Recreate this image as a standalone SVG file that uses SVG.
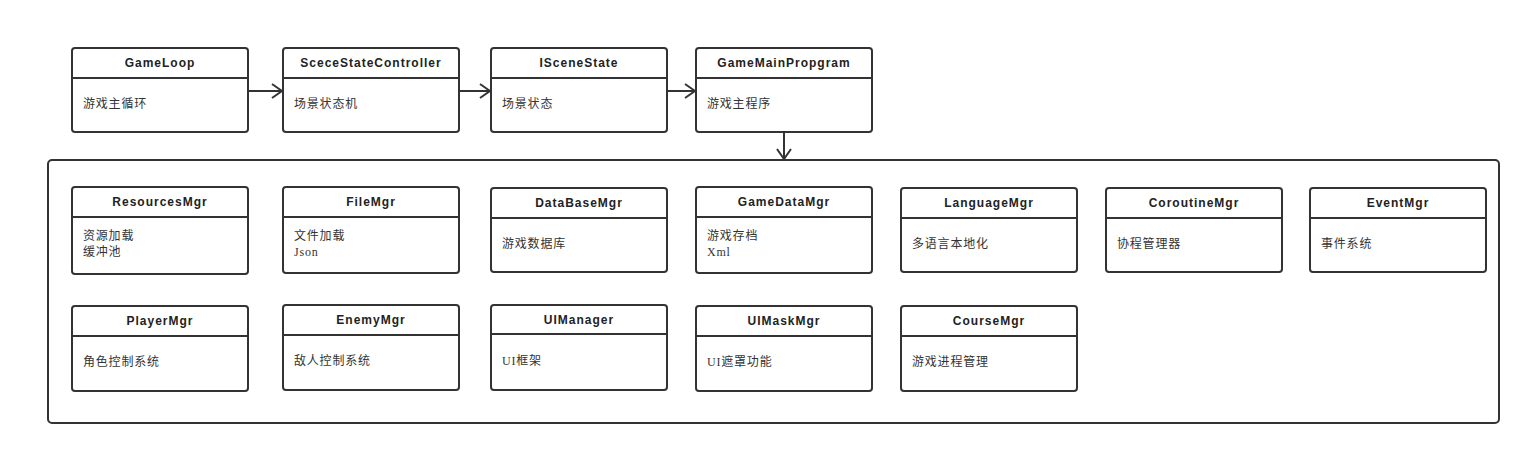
<svg xmlns="http://www.w3.org/2000/svg" width="1531" height="456" viewBox="0 0 1531 456">
<defs>
<style>
.box{fill:#fff;stroke:#333;stroke-width:2}
.sep{stroke:#333;stroke-width:2;fill:none}
.hd{font-family:"Liberation Sans",Arial,sans-serif;font-size:12px;font-weight:bold;letter-spacing:1px;fill:#222;text-anchor:middle}
.bd{font-family:"Liberation Serif","Noto Sans CJK SC",serif;font-size:12px;letter-spacing:0.8px;fill:#333}
.cn{stroke:#333;stroke-width:2;fill:none}
</style>
<marker id="ar" viewBox="0 0 12 16" refX="11" refY="8" markerWidth="12" markerHeight="16" markerUnits="userSpaceOnUse" orient="auto">
<path d="M1,1 L11,8 L1,15" fill="none" stroke="#333" stroke-width="2"/>
</marker>
</defs>
<rect width="1531" height="456" fill="#fff"/>

<g id="container"><rect class="box" x="48" y="160" width="1451" height="263" rx="4"/></g>

<g id="GameLoop"><rect class="box" x="72" y="48" width="176" height="84" rx="3"/><line class="sep" x1="72" y1="78" x2="248" y2="78"/><text class="hd" x="160" y="67">GameLoop</text><text class="bd" x="83" y="108">游戏主循环</text></g>
<g id="SceceStateController"><rect class="box" x="283" y="48" width="176" height="84" rx="3"/><line class="sep" x1="283" y1="78" x2="459" y2="78"/><text class="hd" x="371" y="67">SceceStateController</text><text class="bd" x="294" y="108">场景状态机</text></g>
<g id="ISceneState"><rect class="box" x="491" y="48" width="176" height="84" rx="3"/><line class="sep" x1="491" y1="78" x2="667" y2="78"/><text class="hd" x="579" y="67">ISceneState</text><text class="bd" x="502" y="108">场景状态</text></g>
<g id="GameMainPropgram"><rect class="box" x="696" y="48" width="176" height="84" rx="3"/><line class="sep" x1="696" y1="78" x2="872" y2="78"/><text class="hd" x="784" y="67">GameMainPropgram</text><text class="bd" x="707" y="108">游戏主程序</text></g>

<g id="ResourcesMgr"><rect class="box" x="72" y="187" width="176" height="87" rx="3"/><line class="sep" x1="72" y1="217" x2="248" y2="217"/><text class="hd" x="160" y="206">ResourcesMgr</text><text class="bd" x="83" y="240">资源加载</text><text class="bd" x="83" y="256">缓冲池</text></g>
<g id="FileMgr"><rect class="box" x="283" y="187" width="176" height="86" rx="3"/><line class="sep" x1="283" y1="217" x2="459" y2="217"/><text class="hd" x="371" y="206">FileMgr</text><text class="bd" x="294" y="240">文件加载</text><text class="bd" x="294" y="256">Json</text></g>
<g id="DataBaseMgr"><rect class="box" x="491" y="188" width="176" height="84" rx="3"/><line class="sep" x1="491" y1="218" x2="667" y2="218"/><text class="hd" x="579" y="207">DataBaseMgr</text><text class="bd" x="502" y="248">游戏数据库</text></g>
<g id="GameDataMgr"><rect class="box" x="696" y="187" width="176" height="86" rx="3"/><line class="sep" x1="696" y1="217" x2="872" y2="217"/><text class="hd" x="784" y="206">GameDataMgr</text><text class="bd" x="707" y="240">游戏存档</text><text class="bd" x="707" y="256">Xml</text></g>
<g id="LanguageMgr"><rect class="box" x="901" y="188" width="176" height="84" rx="3"/><line class="sep" x1="901" y1="218" x2="1077" y2="218"/><text class="hd" x="989" y="207">LanguageMgr</text><text class="bd" x="912" y="248">多语言本地化</text></g>
<g id="CoroutineMgr"><rect class="box" x="1106" y="188" width="176" height="84" rx="3"/><line class="sep" x1="1106" y1="218" x2="1282" y2="218"/><text class="hd" x="1194" y="207">CoroutineMgr</text><text class="bd" x="1117" y="248">协程管理器</text></g>
<g id="EventMgr"><rect class="box" x="1310" y="188" width="176" height="84" rx="3"/><line class="sep" x1="1310" y1="218" x2="1486" y2="218"/><text class="hd" x="1398" y="207">EventMgr</text><text class="bd" x="1321" y="248">事件系统</text></g>

<g id="PlayerMgr"><rect class="box" x="72" y="306" width="176" height="85" rx="3"/><line class="sep" x1="72" y1="336" x2="248" y2="336"/><text class="hd" x="160" y="325">PlayerMgr</text><text class="bd" x="83" y="366">角色控制系统</text></g>
<g id="EnemyMgr"><rect class="box" x="283" y="305" width="176" height="85" rx="3"/><line class="sep" x1="283" y1="335" x2="459" y2="335"/><text class="hd" x="371" y="324">EnemyMgr</text><text class="bd" x="294" y="365">敌人控制系统</text></g>
<g id="UIManager"><rect class="box" x="491" y="305" width="176" height="85" rx="3"/><line class="sep" x1="491" y1="334" x2="667" y2="334"/><text class="hd" x="579" y="324">UIManager</text><text class="bd" x="502" y="365">UI框架</text></g>
<g id="UIMaskMgr"><rect class="box" x="696" y="306" width="176" height="85" rx="3"/><line class="sep" x1="696" y1="336" x2="872" y2="336"/><text class="hd" x="784" y="325">UIMaskMgr</text><text class="bd" x="707" y="366">UI遮罩功能</text></g>
<g id="CourseMgr"><rect class="box" x="901" y="306" width="176" height="85" rx="3"/><line class="sep" x1="901" y1="336" x2="1077" y2="336"/><text class="hd" x="989" y="325">CourseMgr</text><text class="bd" x="912" y="366">游戏进程管理</text></g>

<g id="connectors">
<line class="cn" x1="248" y1="91" x2="282" y2="91" marker-end="url(#ar)"/>
<line class="cn" x1="459" y1="91" x2="490" y2="91" marker-end="url(#ar)"/>
<line class="cn" x1="667" y1="91" x2="695" y2="91" marker-end="url(#ar)"/>
<line class="cn" x1="784" y1="132" x2="784" y2="159" marker-end="url(#ar)"/>
</g>
</svg>
